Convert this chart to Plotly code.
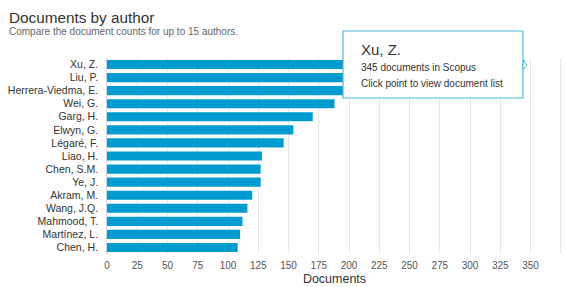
import plotly.graph_objects as go

authors = ["Xu, Z.", "Liu, P.", "Herrera-Viedma, E.", "Wei, G.", "Garg, H.", "Elwyn, G.",
           "Légaré, F.", "Liao, H.", "Chen, S.M.", "Ye, J.", "Akram, M.", "Wang, J.Q.",
           "Mahmood, T.", "Martínez, L.", "Chen, H."]
documents = [345, 300, 262, 188, 170, 154, 146, 128, 127, 127, 120, 116, 112, 110, 108]
tick_values = [0, 25, 50, 75, 100, 125, 150, 175, 200, 225, 250, 275, 300, 325, 350, 375]
tick_labels = ["0", "25", "50", "75", "100", "125", "150", "175", "200", "225", "250",
               "275", "300", "325", "350", ""]

FONT = "Arial, Liberation Sans, sans-serif"

fig = go.Figure(go.Bar(
    x=documents, y=authors, orientation="h",
    marker=dict(color="#009bcf", line=dict(width=0)),
    hovertemplate="%{y}<br>%{x} documents in Scopus<extra></extra>",
))

L, R, T, B = 107, 4, 58, 33
W, H = 566, 287
pw, ph = W - L - R, H - T - B

def px(x):
    return (x - L) / pw

def py(y):
    return (H - B - y) / ph

fig.update_layout(
    width=W, height=H,
    margin=dict(l=L, r=R, t=T, b=B),
    paper_bgcolor="white", plot_bgcolor="white",
    font=dict(family=FONT, color="#333333", size=10),
    bargap=0.3,
    showlegend=False,
    xaxis=dict(
        range=[0, 376], tickvals=tick_values, ticktext=tick_labels,
        showgrid=True, gridcolor="#e6e6e6", gridwidth=1,
        zeroline=False, showline=False, ticks="",
        ticklabelstandoff=4,
        tickfont=dict(size=10, color="#555555"),
        title=dict(text="Documents", font=dict(size=12.5, color="#333333"), standoff=4),
        fixedrange=True,
    ),
    yaxis=dict(
        categoryorder="array", categoryarray=authors[::-1],
        showgrid=False, zeroline=False,
        showline=True, linecolor="#ccd6eb", linewidth=1,
        ticks="", ticksuffix="  ",
        tickfont=dict(size=10.5, color="#333333"),
        fixedrange=True,
    ),
)

# title and subtitle
fig.add_annotation(text="Documents by author", xref="paper", yref="paper",
                   x=px(7), y=py(17), xanchor="left", yanchor="middle",
                   showarrow=False, font=dict(size=15.3, color="#333333", family=FONT))
fig.add_annotation(text="Compare the document counts for up to 15 authors.", xref="paper", yref="paper",
                   x=px(7), y=py(32), xanchor="left", yanchor="middle",
                   showarrow=False, font=dict(size=10, color="#666666", family=FONT))

# tooltip box (as seen in the screenshot)
fig.add_shape(type="rect", xref="paper", yref="paper",
              x0=px(343), x1=px(523), y0=py(98), y1=py(31),
              line=dict(color="#4db8e0", width=1.2), fillcolor="white", layer="above")
fig.add_shape(type="path", xref="paper", yref="paper",
              path=f"M {px(523)},{py(61)} L {px(527)},{py(65)} L {px(523)},{py(69)} Z",
              line=dict(color="#4db8e0", width=1), fillcolor="white", layer="above")
fig.add_annotation(text=authors[0], xref="paper", yref="paper",
                   x=px(359), y=py(50), xanchor="left", yanchor="middle",
                   showarrow=False, font=dict(size=15, color="#333333", family=FONT))
fig.add_annotation(text=f"{documents[0]} documents in Scopus", xref="paper", yref="paper",
                   x=px(359), y=py(68), xanchor="left", yanchor="middle",
                   showarrow=False, font=dict(size=10, color="#333333", family=FONT))
fig.add_annotation(text="Click point to view document list", xref="paper", yref="paper",
                   x=px(359), y=py(83), xanchor="left", yanchor="middle",
                   showarrow=False, font=dict(size=10, color="#333333", family=FONT))

fig.write_html("out.html", config={"displayModeBar": False},
               post_script="document.body.style.margin='0px';document.body.style.overflow='hidden';")
